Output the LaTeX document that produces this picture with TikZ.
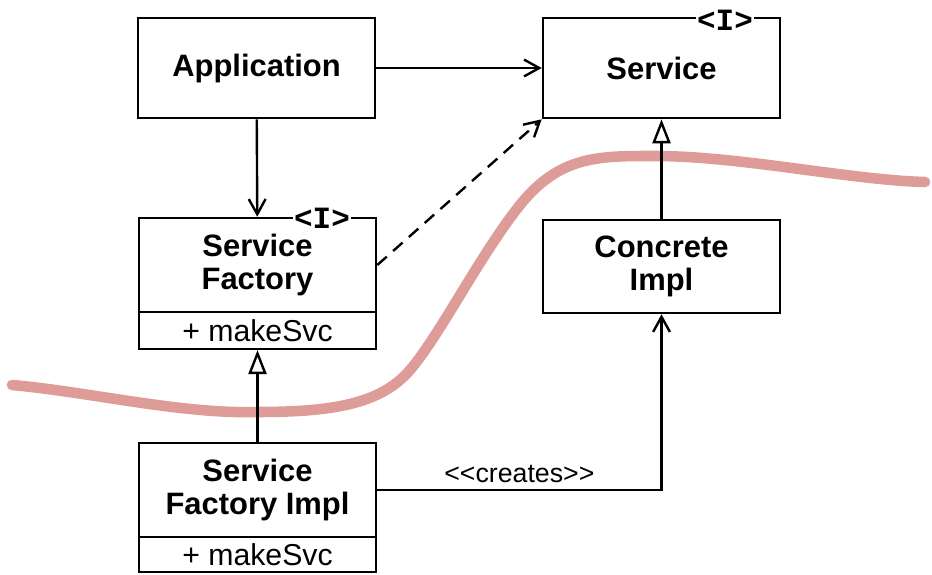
\documentclass[tikz,border=0pt]{standalone}
\usepackage{fontspec}
\setmainfont{Liberation Sans}
\newfontfamily\tagfont{Liberation Mono}
\usetikzlibrary{arrows.meta,positioning}
\definecolor{boundary}{RGB}{221,156,152}

\tikzset{
  cls/.style={draw,line width=1.8pt,fill=white,minimum width=5.925cm,align=center,
    font=\fontsize{22}{25}\selectfont\bfseries},
  op/.style={draw,line width=1.8pt,fill=white,minimum width=5.925cm,inner sep=0pt,
    font=\fontsize{21.5}{22}\selectfont},
  tag/.style={fill=white,inner sep=1pt,font=\fontsize{22}{22}\selectfont\tagfont\bfseries},
  assoc/.style={draw,line width=1.7pt,-{Straight Barb[length=0.38cm,width=0.42cm,line width=1.7pt]}},
  inherit/.style={draw,line width=1.7pt,-{Triangle[open,length=0.6cm,width=0.45cm,line width=1.7pt]}}
}

\begin{document}
\begin{tikzpicture}[x=0.025cm,y=-0.025cm]
  \useasboundingbox (0,0) rectangle (932,574);

  % the boundary line
  \draw[boundary,line width=7.5pt,line cap=round]
    (12,385) .. controls (90,392) and (180,414) .. (256,412)
    .. controls (330,412) and (380,405) .. (410,370)
    .. controls (440,335) and (480,255) .. (520,205)
    .. controls (560,155) and (600,156) .. (655,156)
    .. controls (740,156) and (850,180) .. (925,182);

  % classes
  \node[cls,minimum height=2.5cm] (app) at (256.5,68) {Application};
  \node[cls,minimum height=2.5cm] (svc) at (661.5,68) {Service};
  \node[cls,minimum height=2.35cm] (sf) at (257.5,265) {Service\\[-2pt]Factory};
  \node[op,minimum height=0.92cm,below=-1.8pt of sf] (sfop) {+ makeSvc};
  \node[cls,minimum height=2.325cm] (ci) at (661.5,266.5) {Concrete\\[-2pt]Impl};
  \node[cls,minimum height=2.35cm] (sfi) at (257.5,490) {Service\\[-2pt]Factory Impl};
  \node[op,minimum height=0.87cm,below=-1.8pt of sfi] (sfiop) {+ makeSvc};

  % interface tags
  \node[tag] (svctag) at (725,20) {<I>};
  \node[tag] (sftag) at (322,218) {<I>};

  % relations
  \path[assoc] (app) -- (svc);
  \path[assoc] (app) -- (sf);
  \path[assoc,dashed,dash pattern=on 9pt off 6pt] (sf.east) -- (svc.south west);
  \path[inherit] (ci) -- (svc);
  \path[inherit] (sfi) -- (sfop);
  \path[assoc] (sfi.east) -| node[pos=0.25,above=1pt,font=\fontsize{19}{19}\selectfont]
    {<\kern0pt<creates>\kern0pt>} (ci);

\end{tikzpicture}
\end{document}
